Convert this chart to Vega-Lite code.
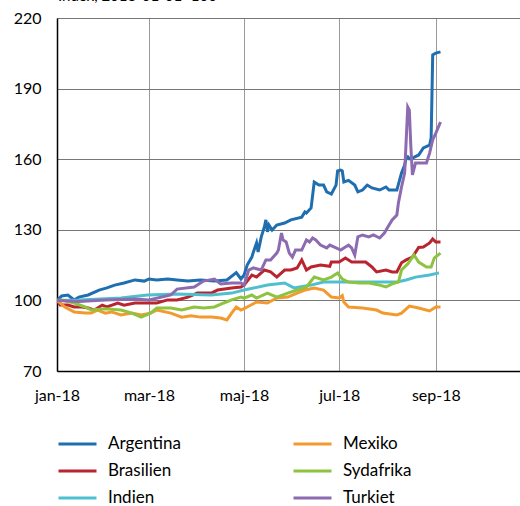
{
"$schema": "https://vega.github.io/schema/vega-lite/v6.json",
"width": 463, "height": 353,
"autosize": "none",
"padding": {"left": 57, "top": 18, "right": 0, "bottom": 135},
"title": {"text": "Index, 2018-01-01=100", "anchor": "start", "orient": "top", "offset": 6, "fontSize": 15, "font": "Lato", "fontWeight": "normal", "color": "#000", "frame": "group", "dx": 1},
"config": {"view": {"stroke": null}, "font": "Lato"},
"data": {"values": [
{"date":"2018-01-01","country":"Argentina","index":100},
{"date":"2018-01-04","country":"Argentina","index":101.9},
{"date":"2018-01-08","country":"Argentina","index":102.3},
{"date":"2018-01-12","country":"Argentina","index":100.2},
{"date":"2018-01-15","country":"Argentina","index":101.4},
{"date":"2018-01-21","country":"Argentina","index":102.3},
{"date":"2018-01-28","country":"Argentina","index":104.4},
{"date":"2018-02-02","country":"Argentina","index":105.3},
{"date":"2018-02-07","country":"Argentina","index":106.5},
{"date":"2018-02-13","country":"Argentina","index":107.4},
{"date":"2018-02-20","country":"Argentina","index":108.7},
{"date":"2018-02-26","country":"Argentina","index":108.2},
{"date":"2018-03-01","country":"Argentina","index":109.1},
{"date":"2018-03-06","country":"Argentina","index":108.7},
{"date":"2018-03-13","country":"Argentina","index":109.1},
{"date":"2018-03-19","country":"Argentina","index":108.7},
{"date":"2018-03-26","country":"Argentina","index":108.2},
{"date":"2018-04-03","country":"Argentina","index":108.7},
{"date":"2018-04-12","country":"Argentina","index":108.2},
{"date":"2018-04-20","country":"Argentina","index":108.7},
{"date":"2018-04-26","country":"Argentina","index":111.8},
{"date":"2018-04-29","country":"Argentina","index":109.1},
{"date":"2018-05-01","country":"Argentina","index":110.8},
{"date":"2018-05-03","country":"Argentina","index":115.0},
{"date":"2018-05-06","country":"Argentina","index":118.4},
{"date":"2018-05-07","country":"Argentina","index":120.6},
{"date":"2018-05-09","country":"Argentina","index":124.4},
{"date":"2018-05-10","country":"Argentina","index":120.6},
{"date":"2018-05-12","country":"Argentina","index":126.9},
{"date":"2018-05-14","country":"Argentina","index":131.2},
{"date":"2018-05-15","country":"Argentina","index":134.2},
{"date":"2018-05-16","country":"Argentina","index":129.1},
{"date":"2018-05-17","country":"Argentina","index":132.0},
{"date":"2018-05-19","country":"Argentina","index":129.9},
{"date":"2018-05-22","country":"Argentina","index":132.0},
{"date":"2018-05-27","country":"Argentina","index":132.9},
{"date":"2018-05-31","country":"Argentina","index":134.2},
{"date":"2018-06-07","country":"Argentina","index":135.4},
{"date":"2018-06-09","country":"Argentina","index":137.6},
{"date":"2018-06-10","country":"Argentina","index":137.1},
{"date":"2018-06-13","country":"Argentina","index":139.3},
{"date":"2018-06-15","country":"Argentina","index":150.3},
{"date":"2018-06-18","country":"Argentina","index":149.0},
{"date":"2018-06-21","country":"Argentina","index":149.0},
{"date":"2018-06-23","country":"Argentina","index":146.1},
{"date":"2018-06-26","country":"Argentina","index":145.2},
{"date":"2018-06-29","country":"Argentina","index":149.0},
{"date":"2018-06-30","country":"Argentina","index":155.0},
{"date":"2018-07-02","country":"Argentina","index":155.4},
{"date":"2018-07-03","country":"Argentina","index":155.0},
{"date":"2018-07-04","country":"Argentina","index":150.3},
{"date":"2018-07-07","country":"Argentina","index":151.0},
{"date":"2018-07-11","country":"Argentina","index":149.0},
{"date":"2018-07-13","country":"Argentina","index":146.1},
{"date":"2018-07-16","country":"Argentina","index":146.9},
{"date":"2018-07-19","country":"Argentina","index":149.0},
{"date":"2018-07-22","country":"Argentina","index":147.8},
{"date":"2018-07-27","country":"Argentina","index":146.9},
{"date":"2018-07-31","country":"Argentina","index":148.2},
{"date":"2018-08-02","country":"Argentina","index":146.9},
{"date":"2018-08-07","country":"Argentina","index":146.9},
{"date":"2018-08-10","country":"Argentina","index":154.1},
{"date":"2018-08-12","country":"Argentina","index":157.5},
{"date":"2018-08-13","country":"Argentina","index":160.5},
{"date":"2018-08-14","country":"Argentina","index":161.0},
{"date":"2018-08-15","country":"Argentina","index":160.2},
{"date":"2018-08-17","country":"Argentina","index":160.5},
{"date":"2018-08-21","country":"Argentina","index":161.8},
{"date":"2018-08-24","country":"Argentina","index":164.8},
{"date":"2018-08-28","country":"Argentina","index":166.0},
{"date":"2018-08-29","country":"Argentina","index":169.0},
{"date":"2018-08-30","country":"Argentina","index":204.3},
{"date":"2018-09-01","country":"Argentina","index":205.1},
{"date":"2018-09-04","country":"Argentina","index":205.6},

{"date":"2018-01-01","country":"Brasilien","index":100},
{"date":"2018-01-03","country":"Brasilien","index":98.0},
{"date":"2018-01-08","country":"Brasilien","index":98.0},
{"date":"2018-01-12","country":"Brasilien","index":97.2},
{"date":"2018-01-17","country":"Brasilien","index":97.2},
{"date":"2018-01-21","country":"Brasilien","index":96.8},
{"date":"2018-01-25","country":"Brasilien","index":95.9},
{"date":"2018-01-30","country":"Brasilien","index":98.0},
{"date":"2018-02-02","country":"Brasilien","index":97.2},
{"date":"2018-02-09","country":"Brasilien","index":98.9},
{"date":"2018-02-13","country":"Brasilien","index":98.0},
{"date":"2018-02-20","country":"Brasilien","index":98.9},
{"date":"2018-02-26","country":"Brasilien","index":98.9},
{"date":"2018-03-06","country":"Brasilien","index":98.9},
{"date":"2018-03-13","country":"Brasilien","index":100.2},
{"date":"2018-03-19","country":"Brasilien","index":100.2},
{"date":"2018-03-26","country":"Brasilien","index":101.4},
{"date":"2018-04-01","country":"Brasilien","index":103.1},
{"date":"2018-04-10","country":"Brasilien","index":103.1},
{"date":"2018-04-14","country":"Brasilien","index":104.4},
{"date":"2018-04-23","country":"Brasilien","index":105.3},
{"date":"2018-04-29","country":"Brasilien","index":105.7},
{"date":"2018-05-01","country":"Brasilien","index":106.5},
{"date":"2018-05-06","country":"Brasilien","index":110.8},
{"date":"2018-05-09","country":"Brasilien","index":109.9},
{"date":"2018-05-14","country":"Brasilien","index":112.9},
{"date":"2018-05-18","country":"Brasilien","index":112.1},
{"date":"2018-05-22","country":"Brasilien","index":109.9},
{"date":"2018-05-27","country":"Brasilien","index":112.9},
{"date":"2018-05-31","country":"Brasilien","index":112.9},
{"date":"2018-06-04","country":"Brasilien","index":113.8},
{"date":"2018-06-07","country":"Brasilien","index":117.2},
{"date":"2018-06-10","country":"Brasilien","index":112.9},
{"date":"2018-06-13","country":"Brasilien","index":114.2},
{"date":"2018-06-19","country":"Brasilien","index":115.0},
{"date":"2018-06-25","country":"Brasilien","index":114.5},
{"date":"2018-06-26","country":"Brasilien","index":116.3},
{"date":"2018-07-01","country":"Brasilien","index":116.3},
{"date":"2018-07-05","country":"Brasilien","index":118.0},
{"date":"2018-07-09","country":"Brasilien","index":116.3},
{"date":"2018-07-14","country":"Brasilien","index":116.3},
{"date":"2018-07-18","country":"Brasilien","index":116.3},
{"date":"2018-07-22","country":"Brasilien","index":114.2},
{"date":"2018-07-25","country":"Brasilien","index":112.1},
{"date":"2018-07-31","country":"Brasilien","index":112.9},
{"date":"2018-08-04","country":"Brasilien","index":112.1},
{"date":"2018-08-07","country":"Brasilien","index":112.1},
{"date":"2018-08-10","country":"Brasilien","index":116.0},
{"date":"2018-08-13","country":"Brasilien","index":117.2},
{"date":"2018-08-17","country":"Brasilien","index":118.4},
{"date":"2018-08-21","country":"Brasilien","index":122.5},
{"date":"2018-08-24","country":"Brasilien","index":122.7},
{"date":"2018-08-28","country":"Brasilien","index":124.4},
{"date":"2018-08-30","country":"Brasilien","index":126.1},
{"date":"2018-09-01","country":"Brasilien","index":124.8},
{"date":"2018-09-04","country":"Brasilien","index":124.8},

{"date":"2018-01-01","country":"Indien","index":100},
{"date":"2018-01-15","country":"Indien","index":100.2},
{"date":"2018-02-11","country":"Indien","index":101.0},
{"date":"2018-02-28","country":"Indien","index":102.3},
{"date":"2018-03-19","country":"Indien","index":102.7},
{"date":"2018-04-10","country":"Indien","index":102.3},
{"date":"2018-04-23","country":"Indien","index":103.1},
{"date":"2018-05-01","country":"Indien","index":104.4},
{"date":"2018-05-16","country":"Indien","index":106.5},
{"date":"2018-05-27","country":"Indien","index":107.4},
{"date":"2018-06-02","country":"Indien","index":105.3},
{"date":"2018-06-13","country":"Indien","index":106.5},
{"date":"2018-06-21","country":"Indien","index":107.8},
{"date":"2018-07-02","country":"Indien","index":107.8},
{"date":"2018-07-16","country":"Indien","index":107.8},
{"date":"2018-08-07","country":"Indien","index":107.8},
{"date":"2018-08-13","country":"Indien","index":108.7},
{"date":"2018-08-19","country":"Indien","index":109.9},
{"date":"2018-08-28","country":"Indien","index":110.8},
{"date":"2018-09-03","country":"Indien","index":111.7},

{"date":"2018-01-01","country":"Mexiko","index":100},
{"date":"2018-01-06","country":"Mexiko","index":97.2},
{"date":"2018-01-12","country":"Mexiko","index":95.1},
{"date":"2018-01-19","country":"Mexiko","index":94.6},
{"date":"2018-01-23","country":"Mexiko","index":94.6},
{"date":"2018-01-27","country":"Mexiko","index":95.9},
{"date":"2018-02-01","country":"Mexiko","index":94.6},
{"date":"2018-02-05","country":"Mexiko","index":95.1},
{"date":"2018-02-11","country":"Mexiko","index":93.8},
{"date":"2018-02-18","country":"Mexiko","index":94.6},
{"date":"2018-02-24","country":"Mexiko","index":93.8},
{"date":"2018-03-02","country":"Mexiko","index":94.6},
{"date":"2018-03-06","country":"Mexiko","index":95.9},
{"date":"2018-03-15","country":"Mexiko","index":94.6},
{"date":"2018-03-22","country":"Mexiko","index":92.9},
{"date":"2018-03-28","country":"Mexiko","index":93.5},
{"date":"2018-04-03","country":"Mexiko","index":92.9},
{"date":"2018-04-10","country":"Mexiko","index":92.9},
{"date":"2018-04-16","country":"Mexiko","index":92.5},
{"date":"2018-04-20","country":"Mexiko","index":91.7},
{"date":"2018-04-23","country":"Mexiko","index":94.6},
{"date":"2018-04-26","country":"Mexiko","index":97.2},
{"date":"2018-04-29","country":"Mexiko","index":95.9},
{"date":"2018-05-01","country":"Mexiko","index":96.5},
{"date":"2018-05-03","country":"Mexiko","index":97.2},
{"date":"2018-05-09","country":"Mexiko","index":99.3},
{"date":"2018-05-16","country":"Mexiko","index":98.9},
{"date":"2018-05-22","country":"Mexiko","index":101.0},
{"date":"2018-05-29","country":"Mexiko","index":101.4},
{"date":"2018-06-04","country":"Mexiko","index":103.1},
{"date":"2018-06-09","country":"Mexiko","index":104.4},
{"date":"2018-06-15","country":"Mexiko","index":105.3},
{"date":"2018-06-21","country":"Mexiko","index":104.4},
{"date":"2018-06-26","country":"Mexiko","index":101.4},
{"date":"2018-07-01","country":"Mexiko","index":101.0},
{"date":"2018-07-03","country":"Mexiko","index":102.0},
{"date":"2018-07-04","country":"Mexiko","index":99.3},
{"date":"2018-07-07","country":"Mexiko","index":97.2},
{"date":"2018-07-16","country":"Mexiko","index":96.8},
{"date":"2018-07-25","country":"Mexiko","index":95.9},
{"date":"2018-07-29","country":"Mexiko","index":94.6},
{"date":"2018-08-07","country":"Mexiko","index":93.8},
{"date":"2018-08-10","country":"Mexiko","index":94.6},
{"date":"2018-08-15","country":"Mexiko","index":97.6},
{"date":"2018-08-21","country":"Mexiko","index":96.8},
{"date":"2018-08-28","country":"Mexiko","index":95.5},
{"date":"2018-09-01","country":"Mexiko","index":97.2},
{"date":"2018-09-04","country":"Mexiko","index":97.2},

{"date":"2018-01-01","country":"Sydafrika","index":100},
{"date":"2018-01-04","country":"Sydafrika","index":100.2},
{"date":"2018-01-12","country":"Sydafrika","index":98.9},
{"date":"2018-01-19","country":"Sydafrika","index":97.2},
{"date":"2018-01-23","country":"Sydafrika","index":95.9},
{"date":"2018-02-01","country":"Sydafrika","index":96.5},
{"date":"2018-02-11","country":"Sydafrika","index":95.9},
{"date":"2018-02-18","country":"Sydafrika","index":94.6},
{"date":"2018-02-24","country":"Sydafrika","index":92.9},
{"date":"2018-03-02","country":"Sydafrika","index":94.6},
{"date":"2018-03-06","country":"Sydafrika","index":96.8},
{"date":"2018-03-15","country":"Sydafrika","index":96.8},
{"date":"2018-03-22","country":"Sydafrika","index":95.9},
{"date":"2018-03-30","country":"Sydafrika","index":97.2},
{"date":"2018-04-05","country":"Sydafrika","index":96.8},
{"date":"2018-04-12","country":"Sydafrika","index":97.2},
{"date":"2018-04-18","country":"Sydafrika","index":98.9},
{"date":"2018-04-23","country":"Sydafrika","index":100.2},
{"date":"2018-04-29","country":"Sydafrika","index":101.4},
{"date":"2018-05-01","country":"Sydafrika","index":101.0},
{"date":"2018-05-06","country":"Sydafrika","index":102.3},
{"date":"2018-05-09","country":"Sydafrika","index":101.0},
{"date":"2018-05-16","country":"Sydafrika","index":103.1},
{"date":"2018-05-22","country":"Sydafrika","index":101.4},
{"date":"2018-05-29","country":"Sydafrika","index":103.1},
{"date":"2018-06-04","country":"Sydafrika","index":104.4},
{"date":"2018-06-10","country":"Sydafrika","index":105.7},
{"date":"2018-06-15","country":"Sydafrika","index":109.9},
{"date":"2018-06-21","country":"Sydafrika","index":108.7},
{"date":"2018-06-26","country":"Sydafrika","index":109.9},
{"date":"2018-06-30","country":"Sydafrika","index":111.6},
{"date":"2018-07-03","country":"Sydafrika","index":109.1},
{"date":"2018-07-07","country":"Sydafrika","index":107.8},
{"date":"2018-07-14","country":"Sydafrika","index":107.4},
{"date":"2018-07-20","country":"Sydafrika","index":107.4},
{"date":"2018-07-27","country":"Sydafrika","index":106.5},
{"date":"2018-07-31","country":"Sydafrika","index":105.7},
{"date":"2018-08-04","country":"Sydafrika","index":107.0},
{"date":"2018-08-08","country":"Sydafrika","index":107.8},
{"date":"2018-08-10","country":"Sydafrika","index":112.9},
{"date":"2018-08-14","country":"Sydafrika","index":115.5},
{"date":"2018-08-18","country":"Sydafrika","index":119.3},
{"date":"2018-08-21","country":"Sydafrika","index":116.3},
{"date":"2018-08-26","country":"Sydafrika","index":114.2},
{"date":"2018-08-29","country":"Sydafrika","index":114.2},
{"date":"2018-08-31","country":"Sydafrika","index":118.0},
{"date":"2018-09-04","country":"Sydafrika","index":120.1},

{"date":"2018-01-01","country":"Turkiet","index":100},
{"date":"2018-01-15","country":"Turkiet","index":99.5},
{"date":"2018-02-01","country":"Turkiet","index":100.2},
{"date":"2018-02-20","country":"Turkiet","index":100.6},
{"date":"2018-03-01","country":"Turkiet","index":100.2},
{"date":"2018-03-15","country":"Turkiet","index":102.3},
{"date":"2018-03-19","country":"Turkiet","index":104.8},
{"date":"2018-03-30","country":"Turkiet","index":105.7},
{"date":"2018-04-05","country":"Turkiet","index":108.2},
{"date":"2018-04-12","country":"Turkiet","index":109.1},
{"date":"2018-04-16","country":"Turkiet","index":107.0},
{"date":"2018-04-23","country":"Turkiet","index":107.4},
{"date":"2018-04-29","country":"Turkiet","index":107.4},
{"date":"2018-05-01","country":"Turkiet","index":106.5},
{"date":"2018-05-04","country":"Turkiet","index":112.9},
{"date":"2018-05-07","country":"Turkiet","index":113.8},
{"date":"2018-05-12","country":"Turkiet","index":112.9},
{"date":"2018-05-15","country":"Turkiet","index":117.2},
{"date":"2018-05-18","country":"Turkiet","index":117.2},
{"date":"2018-05-22","country":"Turkiet","index":120.1},
{"date":"2018-05-23","country":"Turkiet","index":121.4},
{"date":"2018-05-25","country":"Turkiet","index":128.6},
{"date":"2018-05-26","country":"Turkiet","index":125.7},
{"date":"2018-05-28","country":"Turkiet","index":124.8},
{"date":"2018-05-30","country":"Turkiet","index":120.1},
{"date":"2018-06-01","country":"Turkiet","index":118.4},
{"date":"2018-06-03","country":"Turkiet","index":121.4},
{"date":"2018-06-07","country":"Turkiet","index":121.4},
{"date":"2018-06-10","country":"Turkiet","index":125.7},
{"date":"2018-06-12","country":"Turkiet","index":124.8},
{"date":"2018-06-14","country":"Turkiet","index":126.5},
{"date":"2018-06-16","country":"Turkiet","index":125.7},
{"date":"2018-06-19","country":"Turkiet","index":123.5},
{"date":"2018-06-23","country":"Turkiet","index":122.3},
{"date":"2018-06-25","country":"Turkiet","index":123.5},
{"date":"2018-06-29","country":"Turkiet","index":122.3},
{"date":"2018-07-02","country":"Turkiet","index":121.4},
{"date":"2018-07-05","country":"Turkiet","index":122.7},
{"date":"2018-07-07","country":"Turkiet","index":123.5},
{"date":"2018-07-09","country":"Turkiet","index":122.3},
{"date":"2018-07-11","country":"Turkiet","index":119.3},
{"date":"2018-07-13","country":"Turkiet","index":127.0},
{"date":"2018-07-16","country":"Turkiet","index":127.8},
{"date":"2018-07-20","country":"Turkiet","index":127.0},
{"date":"2018-07-23","country":"Turkiet","index":127.8},
{"date":"2018-07-27","country":"Turkiet","index":126.5},
{"date":"2018-07-30","country":"Turkiet","index":128.6},
{"date":"2018-08-02","country":"Turkiet","index":132.0},
{"date":"2018-08-04","country":"Turkiet","index":134.2},
{"date":"2018-08-07","country":"Turkiet","index":136.3},
{"date":"2018-08-08","country":"Turkiet","index":141.4},
{"date":"2018-08-10","country":"Turkiet","index":148.2},
{"date":"2018-08-12","country":"Turkiet","index":154.1},
{"date":"2018-08-14","country":"Turkiet","index":182.2},
{"date":"2018-08-15","country":"Turkiet","index":180.9},
{"date":"2018-08-16","country":"Turkiet","index":165.2},
{"date":"2018-08-17","country":"Turkiet","index":153.3},
{"date":"2018-08-19","country":"Turkiet","index":158.4},
{"date":"2018-08-23","country":"Turkiet","index":158.4},
{"date":"2018-08-26","country":"Turkiet","index":158.4},
{"date":"2018-08-28","country":"Turkiet","index":162.6},
{"date":"2018-08-30","country":"Turkiet","index":168.2},
{"date":"2018-09-01","country":"Turkiet","index":171.1},
{"date":"2018-09-04","country":"Turkiet","index":175.8}
]},
"mark": {"type": "line", "strokeWidth": 3, "clip": true},
"encoding": {
  "x": {"field": "date", "type": "temporal",
    "scale": {"domain": ["2018-01-01", "2018-10-25"]},
    "axis": {"title": null, "tickCount": {"interval": "month", "step": 2}, "ticks": false,
      "labelExpr": "['jan','feb','mar','apr','maj','jun','jul','aug','sep','okt','nov','dec'][month(datum.value)] + '-' + timeFormat(datum.value, '%y')",
      "labelFontSize": 16, "labelColor": "#000", "labelPadding": 16, "labelFlush": false,
      "domainColor": "#000", "domainWidth": 1.5, "gridColor": "#999", "gridWidth": 1, "gridOpacity": 1}},
  "y": {"field": "index", "type": "quantitative",
    "scale": {"domain": [70, 220], "nice": false},
    "axis": {"title": null, "values": [70, 100, 130, 160, 190, 220], "ticks": false,
      "labelFontSize": 16, "labelColor": "#000", "labelPadding": 16,
      "domainColor": "#000", "domainWidth": 1.5, "gridColor": "#777", "gridWidth": 1, "gridOpacity": 1}},
  "color": {"field": "country", "type": "nominal",
    "scale": {"domain": ["Argentina", "Brasilien", "Indien", "Mexiko", "Sydafrika", "Turkiet"],
              "range": ["#1f6eb0", "#b9252f", "#4fbfcf", "#f39a2e", "#8dc33f", "#8c6bb1"]},
    "legend": {"title": null, "orient": "none", "legendX": 0, "legendY": 416, "columns": 2,
      "symbolType": "stroke", "symbolSize": 1444, "symbolStrokeWidth": 3, "clipHeight": 20,
      "labelFontSize": 17, "labelColor": "#000", "labelOffset": 10, "columnPadding": 111, "rowPadding": 7}}
}
}
